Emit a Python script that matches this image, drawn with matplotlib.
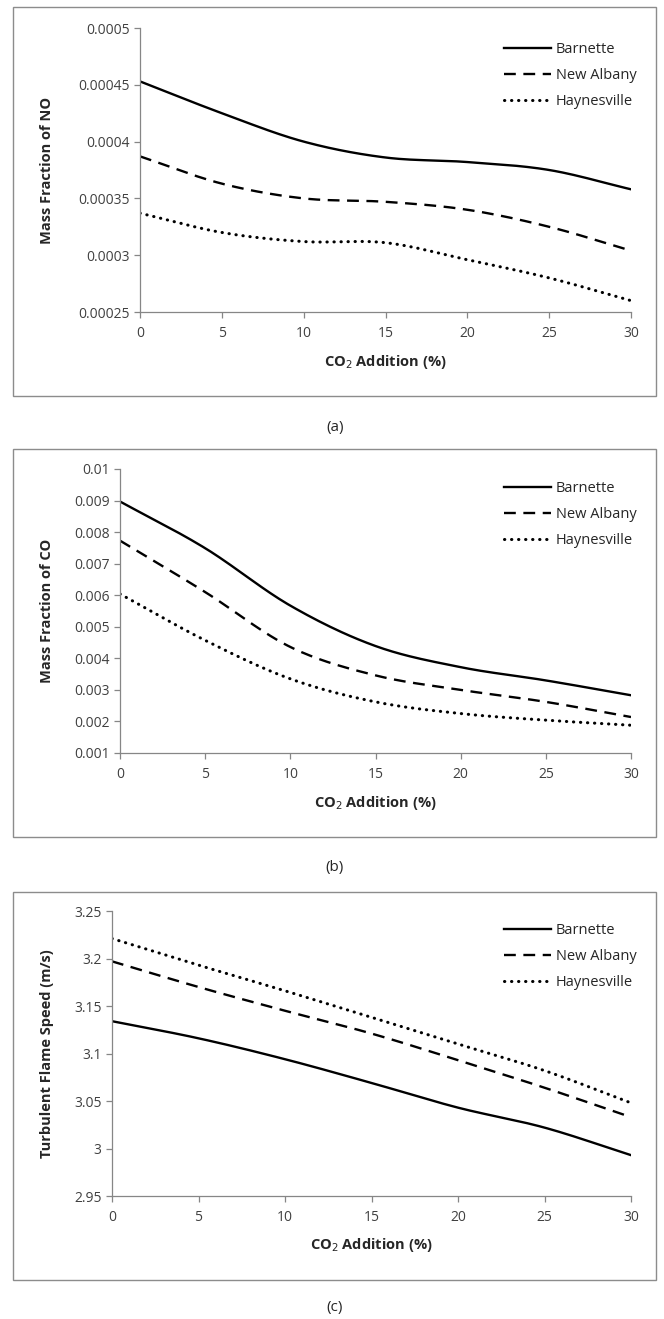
import numpy as np
import matplotlib
matplotlib.use("Agg")
import matplotlib.pyplot as plt
from matplotlib.patches import Rectangle

plt.rcParams['font.family'] = ['Open Sans', 'DejaVu Sans']

# CO2 addition (%)
co2 = [0, 5, 10, 15, 20, 25, 30]
series_names = ['Barnette', 'New Albany', 'Haynesville']

# (a) mass fraction of NO
no_barnette = [0.000453, 0.000425, 0.000400, 0.000386, 0.000382, 0.000375, 0.000358]
no_albany = [0.000387, 0.000363, 0.000350, 0.000347, 0.000340, 0.000325, 0.000304]
no_haynes = [0.000337, 0.000320, 0.000312, 0.000311, 0.000296, 0.000280, 0.000260]

# (b) mass fraction of CO
co_barnette = [0.00897, 0.00749, 0.00567, 0.00439, 0.00372, 0.00330, 0.00283]
co_albany = [0.00773, 0.00610, 0.00436, 0.00346, 0.00300, 0.00262, 0.00214]
co_haynes = [0.00604, 0.00457, 0.00335, 0.00262, 0.00225, 0.00204, 0.00188]

# (c) turbulent flame speed (m/s)
sp_barnette = [3.134, 3.116, 3.094, 3.069, 3.043, 3.022, 2.993]
sp_albany = [3.197, 3.170, 3.145, 3.121, 3.093, 3.064, 3.033]
sp_haynes = [3.221, 3.193, 3.166, 3.138, 3.110, 3.082, 3.048]

W, H = 664, 1319


def smooth(x, y, n=30):
    # catmull-rom curve through the points, like excel's smoothed line
    x = np.asarray(x, float)
    y = np.asarray(y, float)
    px = np.concatenate([[2 * x[0] - x[1]], x, [2 * x[-1] - x[-2]]])
    py = np.concatenate([[2 * y[0] - y[1]], y, [2 * y[-1] - y[-2]]])
    xs, ys = [], []
    t = np.linspace(0, 1, n, endpoint=False)
    for i in range(1, len(px) - 2):
        for p, out in ((px, xs), (py, ys)):
            p0, p1, p2, p3 = p[i - 1], p[i], p[i + 1], p[i + 2]
            out.extend(0.5 * (2 * p1 + (-p0 + p2) * t
                              + (2 * p0 - 5 * p1 + 4 * p2 - p3) * t ** 2
                              + (-p0 + 3 * p1 - 3 * p2 + p3) * t ** 3))
    xs.append(x[-1])
    ys.append(y[-1])
    return xs, ys


def fx(px):
    return px / W


def fy(py):
    return 1 - py / H


fig = plt.figure(figsize=(W / 100, H / 100), dpi=100)

panels = [
    dict(data=[no_barnette, no_albany, no_haynes], ylim=(0.00025, 0.0005), step=0.00005,
         fmt=lambda v: ('%.5f' % v).rstrip('0'), ylabel='Mass Fraction of NO',
         ax=(140, 28, 631, 312), box=(13, 7, 656, 396), cap='(a)', capy=427,
         leg=45, ylab_x=47, xlab_y=362),
    dict(data=[co_barnette, co_albany, co_haynes], ylim=(0.001, 0.01), step=0.001,
         fmt=lambda v: ('%.3f' % v).rstrip('0'), ylabel='Mass Fraction of CO',
         ax=(120, 469, 631, 753), box=(13, 449, 656, 837), cap='(b)', capy=867,
         leg=484, ylab_x=47, xlab_y=803),
    dict(data=[sp_barnette, sp_albany, sp_haynes], ylim=(2.95, 3.25), step=0.05,
         fmt=lambda v: ('%.2f' % v).rstrip('0').rstrip('.'), ylabel='Turbulent Flame Speed (m/s)',
         ax=(112, 911, 631, 1196), box=(13, 892, 656, 1280), cap='(c)', capy=1307,
         leg=926, ylab_x=47, xlab_y=1245),
]

styles = [dict(ls='-'), dict(ls=(0, (5, 3.2))), dict(ls=(0, (0.1, 2.2)), lw=2.2, dash_capstyle='round')]

for p in panels:
    l, t, r, b = p['ax']
    ax = fig.add_axes([fx(l), fy(b), fx(r) - fx(l), (b - t) / H])
    for name, vals, st in zip(series_names, p['data'], styles):
        xs, ys = smooth(co2, vals)
        kw = dict(color='black', lw=1.7)
        kw.update(st)
        ax.plot(xs, ys, label=name, **kw)
    ax.set_xlim(0, 30)
    ax.set_ylim(*p['ylim'])
    ax.set_xticks(co2)
    yt = np.arange(p['ylim'][0], p['ylim'][1] + p['step'] / 2, p['step'])
    ax.set_yticks(yt)
    ax.set_yticklabels([p['fmt'](v) for v in yt])
    for s in ['top', 'right']:
        ax.spines[s].set_visible(False)
    for s in ['left', 'bottom']:
        ax.spines[s].set_color('#868686')
        ax.spines[s].set_linewidth(0.9)
    ax.tick_params(colors='#868686', labelcolor='#404040', labelsize=10, length=4, width=0.9)
    ax.tick_params(axis='x', pad=6)
    fig.text(fx((l + r) / 2), fy(p['xlab_y']), 'CO$_2$ Addition (%)', fontsize=10.5,
             fontweight='bold', color='#262626', ha='center', va='center')
    fig.text(fx(p['ylab_x']), fy((t + b) / 2), p['ylabel'], rotation=90, fontsize=10.5,
             fontweight='bold', color='#262626', ha='center', va='center')
    leg = ax.legend(loc='upper left', frameon=False, fontsize=10.5, handlelength=3.2,
                    handletextpad=0.35, labelspacing=0.75, borderpad=0,
                    bbox_to_anchor=((497 - l) / (r - l), (b - p['leg'] + 10) / (b - t)))
    for txt in leg.get_texts():
        txt.set_color('#262626')
    bl, bt, br, bb = p['box']
    fig.patches.append(Rectangle((fx(bl), fy(bb)), fx(br) - fx(bl), (bb - bt) / H,
                                 transform=fig.transFigure, fill=False,
                                 edgecolor='#8c8c8c', lw=1.0))
    fig.text(fx(335), fy(p['capy']), p['cap'], fontsize=11, color='#262626',
             ha='center', va='center')

fig.savefig('out.png', dpi=100)
